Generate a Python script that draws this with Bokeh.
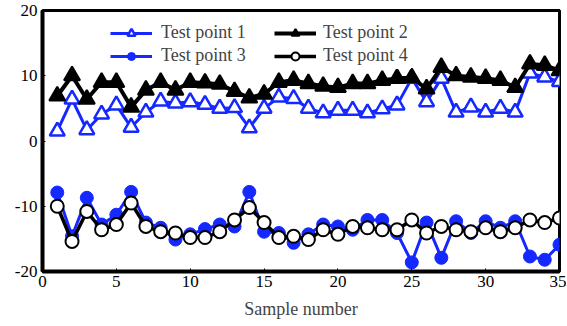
from bokeh.plotting import figure
from bokeh.models import Legend, LegendItem, Range1d, FixedTicker
from bokeh.embed import file_html
from bokeh.resources import INLINE

samples = list(range(1, 36))
tp1 = [1.5, 6.4, 1.7, 4.1, 5.5, 2.1, 4.4, 6.1, 5.8, 6.0, 5.6, 5.0, 5.1, 2.0, 5.0, 6.7, 6.5, 5.0,
       4.3, 4.7, 4.7, 4.3, 4.9, 5.5, 9.6, 6.0, 9.6, 4.4, 5.2, 4.4, 5.0, 4.4, 10.4, 9.8, 9.1]
tp2 = [6.9, 10.0, 6.4, 9.0, 9.0, 5.2, 7.8, 9.0, 7.8, 9.0, 8.9, 8.7, 7.6, 6.6, 7.2, 9.0, 9.3, 8.8,
       8.4, 8.2, 8.8, 8.8, 9.3, 9.6, 9.7, 8.0, 11.3, 10.0, 9.8, 9.6, 9.3, 8.2, 11.8, 11.6, 10.8]
tp3 = [-7.9, -14.6, -8.7, -12.8, -11.3, -7.8, -12.5, -13.3, -15.1, -14.3, -13.5, -12.8, -13.1, -7.8,
       -13.9, -14.1, -15.6, -14.3, -12.8, -13.1, -13.6, -12.1, -12.1, -14.1, -18.6, -12.5, -17.9,
       -12.3, -14.1, -12.3, -13.3, -12.3, -17.7, -18.2, -15.9]
tp4 = [-10.0, -15.4, -10.8, -13.6, -12.8, -9.5, -13.1, -13.9, -14.1, -14.8, -14.8, -13.9, -12.1,
       -10.2, -12.5, -14.8, -14.6, -15.1, -13.6, -14.3, -13.1, -13.3, -13.6, -13.6, -12.1, -14.1,
       -13.1, -13.6, -13.9, -13.3, -13.9, -13.3, -12.1, -12.5, -11.8]
labels = ["Test point 1", "Test point 2", "Test point 3", "Test point 4"]
x_ticks = [0, 5, 10, 15, 20, 25, 30, 35]
y_ticks = [-20, -10, 0, 10, 20]

FONT = "'Liberation Serif', serif"
BLUE = "#1428ff"

p = figure(width=566, height=324, output_backend="svg", toolbar_location=None,
           x_range=Range1d(0, 35), y_range=Range1d(-20, 20),
           min_border_left=42, min_border_right=7, min_border_top=10, min_border_bottom=53)
p.xgrid.visible = False
p.ygrid.visible = False
p.outline_line_color = "black"
p.outline_line_width = 3
p.outline_line_alpha = 1

for ax in (p.xaxis, p.yaxis):
    ax.axis_line_width = 4
    ax.axis_line_color = "black"
    ax.major_tick_in = 3
    ax.major_tick_out = 0
    ax.minor_tick_line_color = None
    ax.major_label_text_font = FONT
    ax.major_label_text_font_size = "17px"
    ax.major_label_text_color = "black"
p.xaxis.major_label_standoff = 4
p.yaxis.major_label_standoff = 5
p.xaxis.ticker = FixedTicker(ticks=x_ticks)
p.yaxis.ticker = FixedTicker(ticks=y_ticks)
p.yaxis.major_label_overrides = {t: str(t) for t in y_ticks}
p.xaxis.axis_label = "Sample number"
p.xaxis.axis_label_text_font = FONT
p.xaxis.axis_label_text_font_size = "18px"
p.xaxis.axis_label_text_font_style = "normal"
p.xaxis.axis_label_standoff = 9

l1 = p.line(samples, tp1, line_color=BLUE, line_width=3)
s1 = p.scatter(samples, tp1, marker="triangle", size=15, fill_color="white",
               line_color=BLUE, line_width=2.5)
l2 = p.line(samples, tp2, line_color="black", line_width=4)
s2 = p.scatter(samples, tp2, marker="triangle", size=16, fill_color="black",
               line_color="black", line_width=2)
l3 = p.line(samples, tp3, line_color=BLUE, line_width=3)
s3 = p.scatter(samples, tp3, marker="circle", size=13, fill_color=BLUE,
               line_color=BLUE, line_width=1)
l4 = p.line(samples, tp4, line_color="black", line_width=3.5)
s4 = p.scatter(samples, tp4, marker="circle", size=13, fill_color="white",
               line_color="black", line_width=2)


def make_legend(its, x, standoff):
    return Legend(items=its, orientation="vertical", location=(x, 202),
                  label_text_font=FONT, label_text_font_size="18px",
                  glyph_width=42, glyph_height=20, label_standoff=standoff, spacing=2,
                  padding=3, margin=0, border_line_alpha=0,
                  background_fill_color="white", background_fill_alpha=1)


leg_a = make_legend([LegendItem(label=labels[0], renderers=[l1, s1]),
                     LegendItem(label=labels[2], renderers=[l3, s3])], 65, 9)
leg_b = make_legend([LegendItem(label=labels[1], renderers=[l2, s2]),
                     LegendItem(label=labels[3], renderers=[l4, s4])], 229, 7)
p.add_layout(leg_a, "center")
p.add_layout(leg_b, "center")

open("out.html", "w").write(file_html(p, INLINE))
